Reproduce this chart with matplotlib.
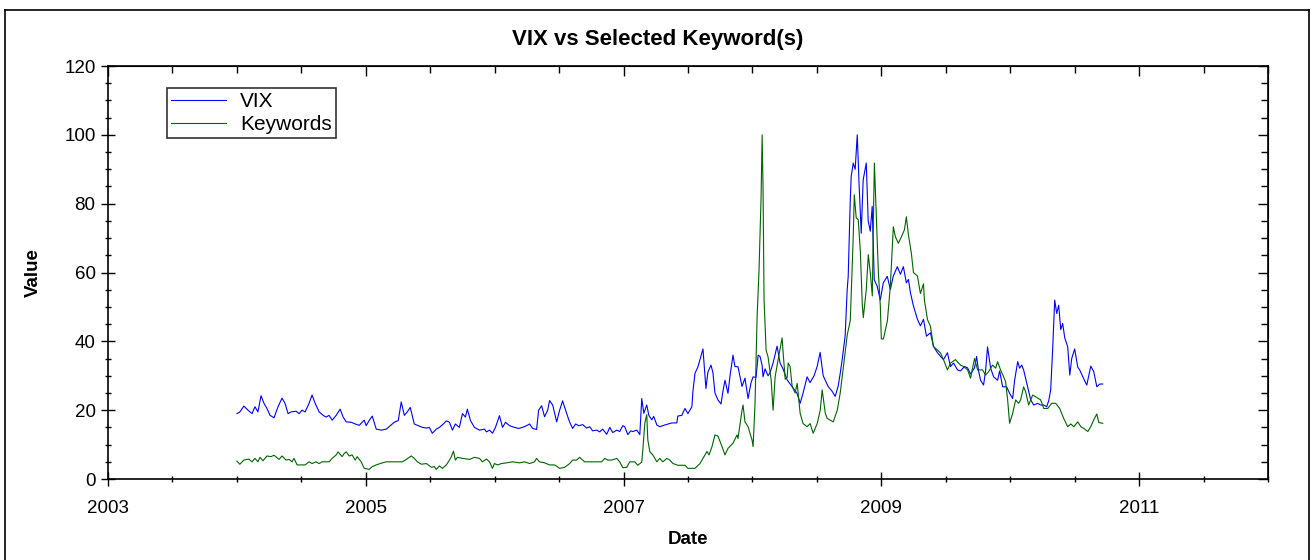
import matplotlib
matplotlib.use('Agg')
import matplotlib.pyplot as plt
from matplotlib.ticker import MultipleLocator
from matplotlib.lines import Line2D

plt.rcParams['font.family'] = ['Liberation Sans', 'DejaVu Sans']

# weekly-ish readings, dates as decimal years
vix_t = [2004.000, 2004.023, 2004.054, 2004.086, 2004.117, 2004.140, 2004.163, 2004.187, 2004.210, 2004.233,
         2004.257, 2004.288, 2004.319, 2004.350, 2004.373, 2004.397, 2004.420, 2004.459, 2004.482, 2004.505,
         2004.529, 2004.560, 2004.583, 2004.607, 2004.638, 2004.669, 2004.692, 2004.715, 2004.739, 2004.770,
         2004.801, 2004.824, 2004.848, 2004.886, 2004.918, 2004.949, 2004.972, 2004.988, 2005.003, 2005.026,
         2005.050, 2005.081, 2005.120, 2005.159, 2005.190, 2005.221, 2005.252, 2005.275, 2005.299, 2005.322,
         2005.345, 2005.376, 2005.407, 2005.439, 2005.470, 2005.493, 2005.516, 2005.547, 2005.571, 2005.602,
         2005.625, 2005.649, 2005.672, 2005.695, 2005.726, 2005.750, 2005.773, 2005.788, 2005.812, 2005.843,
         2005.882, 2005.921, 2005.936, 2005.960, 2005.983, 2006.006, 2006.037, 2006.061, 2006.084, 2006.115,
         2006.154, 2006.185, 2006.216, 2006.247, 2006.271, 2006.294, 2006.325, 2006.341, 2006.364, 2006.387,
         2006.411, 2006.426, 2006.450, 2006.481, 2006.504, 2006.527, 2006.558, 2006.582, 2006.605, 2006.628,
         2006.652, 2006.683, 2006.714, 2006.737, 2006.760, 2006.792, 2006.815, 2006.838, 2006.869, 2006.893,
         2006.916, 2006.947, 2006.970, 2006.994, 2007.009, 2007.033, 2007.056, 2007.071, 2007.103, 2007.126,
         2007.141, 2007.157, 2007.180, 2007.196, 2007.219, 2007.234, 2007.258, 2007.281, 2007.320, 2007.374,
         2007.413, 2007.421, 2007.452, 2007.476, 2007.499, 2007.530, 2007.538, 2007.554, 2007.577, 2007.600,
         2007.616, 2007.639, 2007.654, 2007.678, 2007.693, 2007.709, 2007.732, 2007.756, 2007.771, 2007.787,
         2007.810, 2007.826, 2007.849, 2007.864, 2007.888, 2007.919, 2007.942, 2007.966, 2007.989, 2008.005,
         2008.028, 2008.044, 2008.059, 2008.075, 2008.082, 2008.098, 2008.121, 2008.137, 2008.160, 2008.191,
         2008.214, 2008.237, 2008.269, 2008.307, 2008.346, 2008.370, 2008.393, 2008.424, 2008.447, 2008.478,
         2008.502, 2008.525, 2008.549, 2008.587, 2008.618, 2008.642, 2008.665, 2008.681, 2008.696, 2008.719,
         2008.735, 2008.743, 2008.758, 2008.766, 2008.782, 2008.797, 2008.813, 2008.828, 2008.844, 2008.859,
         2008.883, 2008.898, 2008.914, 2008.929, 2008.945, 2008.968, 2008.992, 2009.015, 2009.046, 2009.070,
         2009.093, 2009.124, 2009.148, 2009.171, 2009.194, 2009.210, 2009.226, 2009.249, 2009.280, 2009.303,
         2009.327, 2009.350, 2009.381, 2009.404, 2009.435, 2009.459, 2009.482, 2009.513, 2009.536, 2009.560,
         2009.591, 2009.614, 2009.645, 2009.669, 2009.692, 2009.723, 2009.739, 2009.754, 2009.770, 2009.793,
         2009.809, 2009.824, 2009.848, 2009.871, 2009.902, 2009.918, 2009.941, 2009.972, 2009.995, 2010.019,
         2010.034, 2010.058, 2010.073, 2010.089, 2010.104, 2010.135, 2010.159, 2010.182, 2010.213, 2010.236,
         2010.260, 2010.283, 2010.299, 2010.314, 2010.330, 2010.345, 2010.361, 2010.376, 2010.392, 2010.407,
         2010.423, 2010.446, 2010.462, 2010.477, 2010.500, 2010.524, 2010.539, 2010.563, 2010.594, 2010.625,
         2010.648, 2010.672, 2010.695, 2010.718]
vix = [19.0, 19.5, 21.2, 20.0, 19.0, 21.0, 19.5, 24.2, 22.0, 20.5,
       18.5, 17.8, 21.0, 23.5, 22.0, 19.0, 19.5, 19.7, 19.0, 20.0,
       19.5, 22.0, 24.4, 22.0, 19.5, 18.5, 18.0, 18.5, 17.1, 18.5,
       20.3, 18.0, 16.6, 16.5, 16.0, 15.6, 16.5, 17.1, 15.5, 17.0,
       18.3, 14.5, 14.2, 14.5, 15.5, 16.5, 17.0, 22.4, 18.5, 19.5,
       20.8, 16.0, 15.5, 15.0, 14.8, 15.0, 13.3, 14.5, 15.0, 16.0,
       16.9, 16.5, 14.2, 16.0, 15.0, 19.0, 18.0, 20.3, 17.0, 15.0,
       14.2, 14.5, 13.7, 14.2, 13.3, 15.0, 18.4, 15.0, 16.5, 15.5,
       15.0, 14.7, 15.0, 15.5, 16.0, 14.7, 14.4, 20.0, 21.3, 18.1,
       20.0, 22.8, 21.5, 16.6, 20.0, 22.7, 19.1, 16.5, 14.7, 16.0,
       15.5, 15.8, 14.8, 15.2, 14.0, 14.2, 13.7, 14.5, 13.0, 15.0,
       13.5, 14.2, 13.8, 15.5, 15.2, 12.9, 14.0, 13.8, 14.2, 12.9,
       23.4, 19.1, 21.5, 18.5, 17.2, 18.2, 15.7, 15.2, 15.7, 16.3,
       16.3, 18.3, 18.5, 20.5, 19.0, 21.0, 25.4, 30.7, 32.6, 35.6,
       37.8, 26.3, 31.0, 33.1, 31.0, 25.0, 23.0, 21.8, 25.5, 28.7,
       24.9, 30.0, 36.0, 32.7, 32.6, 26.9, 29.3, 23.4, 28.0, 29.7,
       29.5, 36.0, 35.6, 33.0, 29.7, 32.0, 30.0, 31.0, 33.7, 38.6,
       33.7, 32.0, 28.8, 26.9, 24.9, 22.0, 25.0, 29.7, 28.0, 30.0,
       32.7, 36.8, 30.0, 26.9, 25.5, 24.0, 27.0, 30.7, 34.7, 41.5,
       55.0, 58.9, 80.0, 87.9, 91.8, 90.0, 100.0, 85.0, 71.4, 86.9,
       91.8, 75.0, 72.0, 79.2, 57.9, 56.0, 52.0, 57.0, 58.9, 55.1,
       59.0, 61.7, 59.5, 61.7, 57.0, 58.0, 54.1, 50.3, 46.4, 44.5,
       46.4, 41.5, 42.5, 38.6, 36.7, 35.7, 34.7, 36.7, 32.7, 33.7,
       31.7, 31.4, 32.7, 32.3, 30.5, 32.3, 35.6, 31.5, 28.7, 27.3,
       31.5, 38.4, 32.2, 29.7, 28.7, 31.4, 26.8, 26.8, 24.9, 23.4,
       28.7, 34.1, 32.2, 33.1, 31.7, 26.8, 23.0, 21.5, 22.0, 21.5,
       21.5, 21.0, 22.8, 25.9, 38.4, 52.0, 48.1, 50.5, 43.4, 45.2,
       41.0, 38.4, 30.2, 35.0, 37.8, 32.5, 31.7, 29.7, 27.3, 32.8,
       31.2, 26.8, 27.6, 27.6]

kw_t = [2004.000, 2004.023, 2004.054, 2004.093, 2004.117, 2004.140, 2004.163, 2004.179, 2004.202, 2004.233,
        2004.264, 2004.288, 2004.327, 2004.350, 2004.381, 2004.404, 2004.428, 2004.443, 2004.467, 2004.529,
        2004.560, 2004.583, 2004.614, 2004.638, 2004.661, 2004.715, 2004.739, 2004.770, 2004.785, 2004.816,
        2004.832, 2004.848, 2004.871, 2004.894, 2004.918, 2004.933, 2004.964, 2004.988, 2005.026, 2005.050,
        2005.081, 2005.120, 2005.159, 2005.221, 2005.283, 2005.314, 2005.353, 2005.376, 2005.400, 2005.431,
        2005.470, 2005.509, 2005.532, 2005.547, 2005.571, 2005.594, 2005.625, 2005.649, 2005.664, 2005.680,
        2005.695, 2005.711, 2005.750, 2005.804, 2005.843, 2005.882, 2005.905, 2005.936, 2005.960, 2005.983,
        2005.998, 2006.022, 2006.053, 2006.092, 2006.138, 2006.193, 2006.232, 2006.271, 2006.309, 2006.325,
        2006.348, 2006.387, 2006.426, 2006.465, 2006.504, 2006.543, 2006.582, 2006.605, 2006.636, 2006.659,
        2006.698, 2006.776, 2006.830, 2006.854, 2006.877, 2006.908, 2006.947, 2006.970, 2006.994, 2007.025,
        2007.048, 2007.087, 2007.110, 2007.141, 2007.149, 2007.165, 2007.180, 2007.188, 2007.204, 2007.227,
        2007.258, 2007.281, 2007.305, 2007.336, 2007.359, 2007.383, 2007.421, 2007.476, 2007.499, 2007.554,
        2007.593, 2007.616, 2007.647, 2007.663, 2007.686, 2007.709, 2007.732, 2007.764, 2007.787, 2007.810,
        2007.849, 2007.880, 2007.888, 2007.919, 2007.927, 2007.942, 2007.966, 2007.997, 2008.005, 2008.020,
        2008.036, 2008.051, 2008.067, 2008.075, 2008.082, 2008.090, 2008.106, 2008.121, 2008.145, 2008.160,
        2008.176, 2008.199, 2008.230, 2008.238, 2008.254, 2008.269, 2008.277, 2008.292, 2008.308, 2008.331,
        2008.347, 2008.370, 2008.393, 2008.424, 2008.448, 2008.471, 2008.502, 2008.526, 2008.541, 2008.565,
        2008.580, 2008.603, 2008.627, 2008.658, 2008.681, 2008.704, 2008.736, 2008.759, 2008.774, 2008.782,
        2008.790, 2008.805, 2008.821, 2008.837, 2008.852, 2008.860, 2008.883, 2008.899, 2008.914, 2008.930,
        2008.938, 2008.946, 2008.961, 2008.977, 2008.992, 2009.000, 2009.016, 2009.047, 2009.070, 2009.093,
        2009.109, 2009.132, 2009.156, 2009.179, 2009.194, 2009.210, 2009.233, 2009.249, 2009.280, 2009.303,
        2009.327, 2009.334, 2009.358, 2009.381, 2009.404, 2009.435, 2009.459, 2009.482, 2009.513, 2009.537,
        2009.575, 2009.614, 2009.638, 2009.669, 2009.692, 2009.723, 2009.747, 2009.785, 2009.809, 2009.832,
        2009.863, 2009.887, 2009.902, 2009.925, 2009.949, 2009.964, 2009.980, 2009.995, 2010.019, 2010.042,
        2010.065, 2010.081, 2010.104, 2010.120, 2010.143, 2010.174, 2010.197, 2010.236, 2010.260, 2010.291,
        2010.322, 2010.353, 2010.384, 2010.415, 2010.446, 2010.470, 2010.493, 2010.524, 2010.548, 2010.571,
        2010.602, 2010.625, 2010.648, 2010.672, 2010.687, 2010.718]
kw = [5.2, 4.3, 5.5, 5.8, 5.0, 6.0, 5.0, 6.3, 5.3, 6.7,
      6.5, 6.9, 5.7, 6.7, 5.5, 5.7, 5.0, 6.0, 4.1, 4.1,
      5.0, 4.5, 5.0, 4.5, 5.0, 5.0, 6.0, 7.0, 7.9, 6.5,
      7.4, 7.9, 6.7, 7.0, 5.5, 6.5, 5.0, 3.1, 2.8, 3.6,
      4.1, 4.6, 5.0, 5.0, 5.0, 5.7, 6.7, 6.0, 5.0, 4.3,
      4.5, 3.4, 3.6, 2.8, 3.8, 3.1, 4.1, 5.5, 6.5, 8.1,
      5.5, 6.3, 6.0, 5.7, 6.3, 6.0, 5.0, 5.8, 5.0, 3.1,
      4.5, 4.1, 4.5, 4.7, 5.0, 4.7, 5.0, 4.5, 5.0, 6.0,
      5.0, 4.7, 4.1, 4.1, 3.1, 3.4, 4.5, 5.5, 5.5, 6.3,
      5.0, 5.0, 5.0, 6.0, 5.5, 5.5, 6.0, 5.0, 3.3, 3.4,
      5.0, 5.0, 4.0, 4.9, 8.3, 16.3, 18.7, 11.4, 7.9, 7.0,
      5.0, 6.0, 5.0, 6.0, 5.5, 4.5, 4.0, 4.0, 3.1, 3.1,
      4.5, 6.0, 8.0, 7.0, 9.4, 12.8, 12.5, 9.4, 7.0, 8.9,
      10.4, 12.8, 11.8, 20.0, 21.5, 16.6, 15.2, 11.3, 9.4, 22.0,
      47.1, 60.7, 82.0, 100.0, 84.9, 52.0, 37.4, 35.5, 28.8, 20.0,
      29.7, 34.7, 41.0, 36.7, 29.0, 29.5, 33.7, 32.7, 26.9, 25.0,
      27.8, 19.1, 16.1, 15.2, 16.1, 13.3, 16.1, 20.0, 25.9, 19.1,
      17.6, 17.1, 16.6, 20.0, 25.0, 32.0, 42.0, 46.0, 62.3, 70.4,
      82.6, 75.9, 75.3, 66.2, 50.8, 46.9, 55.0, 65.2, 60.0, 53.2,
      74.5, 91.8, 76.0, 60.0, 50.3, 40.7, 40.7, 46.0, 56.2, 73.3,
      70.4, 68.5, 70.4, 72.4, 76.2, 71.0, 65.6, 60.0, 59.0, 53.9,
      56.7, 52.0, 46.3, 44.4, 38.5, 37.5, 36.6, 34.7, 31.7, 33.7,
      34.7, 33.1, 32.7, 31.7, 29.3, 35.0, 31.7, 31.7, 30.2, 31.2,
      33.1, 32.2, 34.1, 31.7, 29.7, 28.3, 23.0, 16.2, 19.1, 23.0,
      22.0, 23.0, 26.8, 25.3, 21.5, 24.4, 23.9, 23.0, 20.5, 20.5,
      22.0, 22.0, 20.5, 17.6, 15.2, 16.0, 15.2, 16.6, 15.2, 14.7,
      13.8, 15.2, 17.2, 18.9, 16.4, 16.2]

x_ticks = [2003, 2005, 2007, 2009, 2011]

fig = plt.figure(figsize=(13.11, 5.6), dpi=100)
ax = fig.add_axes([0.0824, 0.1446, 0.8848, 0.7375])

ax.plot(vix_t, vix, color='#0000ff', linewidth=0.8, label='VIX')
ax.plot(kw_t, kw, color='#006400', linewidth=0.8, label='Keywords')

ax.set_xlim(2003, 2012)
ax.set_ylim(0, 120)
ax.set_xticks(x_ticks)
ax.set_xticklabels([str(t) for t in x_ticks])
ax.xaxis.set_minor_locator(MultipleLocator(0.5))
ax.yaxis.set_major_locator(MultipleLocator(20))
ax.yaxis.set_minor_locator(MultipleLocator(5))
ax.tick_params(which='major', direction='inout', length=10, width=1, labelsize=13.5, pad=4)
ax.tick_params(which='minor', direction='inout', length=5, width=1)
ax.tick_params(axis='x', which='major', pad=10)

# top / right ticks point inward only
top = ax.secondary_xaxis('top')
top.set_xticks(x_ticks)
top.xaxis.set_minor_locator(MultipleLocator(0.5))
top.tick_params(which='both', direction='in', labeltop=False, width=1)
top.tick_params(which='major', length=7)
top.tick_params(which='minor', length=5)
right = ax.secondary_yaxis('right')
right.yaxis.set_major_locator(MultipleLocator(20))
right.yaxis.set_minor_locator(MultipleLocator(5))
right.tick_params(which='both', direction='in', labelright=False, width=1)
right.tick_params(which='major', length=7)
right.tick_params(which='minor', length=5)

for s in ax.spines.values():
    s.set_linewidth(1.2)

ax.set_xlabel('Date', fontsize=13.5, fontweight='bold', labelpad=10.5)
ax.set_ylabel('Value', fontsize=13.5, fontweight='bold', labelpad=16)
# title is centred on the whole figure, not on the axes
fig.text(0.502, 0.93, 'VIX vs Selected Keyword(s)', fontsize=16, fontweight='bold',
         ha='center', va='center')

leg = ax.legend(loc='upper left', bbox_to_anchor=(0.051, 0.947), fontsize=15,
                frameon=True, fancybox=False, shadow=False, borderpad=0.2,
                handlelength=2.6, handletextpad=0.7, labelspacing=0.2, borderaxespad=0)
leg.get_frame().set_edgecolor('black')
leg.get_frame().set_linewidth(1.2)

# outer frame around the whole picture
for xs, ys in [([0.004, 0.004], [0.0, 0.983]), ([0.004, 0.9985], [0.983, 0.983]), ([0.9985, 0.9985], [0.983, 0.0])]:
    fig.add_artist(Line2D(xs, ys, transform=fig.transFigure, color='black', linewidth=1.2))

fig.savefig('out.png', dpi=100)
